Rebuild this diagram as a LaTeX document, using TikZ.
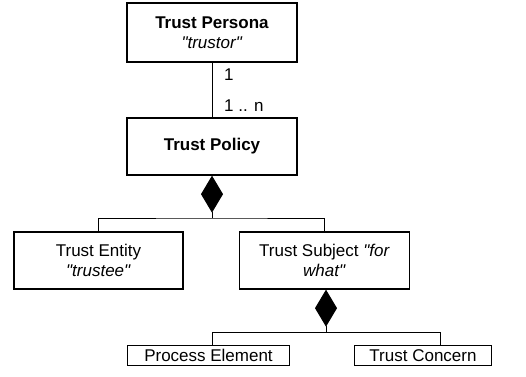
\documentclass[tikz,border=0pt]{standalone}
\usepackage{fontspec}
\setmainfont{Liberation Sans}
\usetikzlibrary{arrows.meta}
\newcommand\qq{\textquotedbl}
\begin{document}
\begin{tikzpicture}[x=1pt,y=-1pt,
  font=\fontsize{17}{20}\selectfont,
  box/.style={draw, line width=1.3pt, inner sep=0pt, align=center},
  conn/.style={line width=1pt},
  agg/.style={conn, -{Diamond[length=37pt,width=22pt]}}]
\useasboundingbox (0,0) rectangle (526,376);
\node[box, minimum width=170pt, minimum height=59pt] (persona) at (212,32.5) {\textbf{Trust Persona}\\\textit{\qq trustor\qq}};
\node[box, minimum width=170pt, minimum height=57pt] (policy) at (212,146.5) {\textbf{Trust Policy}};
\node[box, minimum width=169pt, minimum height=57pt] (entity) at (98.5,260.5) {Trust Entity\\\textit{\qq trustee\qq}};
\node[box, minimum width=170pt, minimum height=57pt] (subject) at (324.5,260.5) {Trust Subject \textit{\qq for}\\\textit{what\qq}};
\node[box, minimum width=162pt, minimum height=20pt] (process) at (208.5,355.7) {Process Element};
\node[box, minimum width=137pt, minimum height=20pt] (concern) at (423,355.7) {Trust Concern};
\draw[conn] (persona.south) -- (policy.north);
\node[anchor=west, inner sep=0pt] (m1) at (224,75) {1};
\node[anchor=west, inner sep=0pt] (mn) at (224,106) {1 .. n};
\coordinate (b1) at (212,218);
\draw[agg] (b1) -- (policy.south);
\draw[conn] (entity.north) |- (b1) -| (subject.north);
\coordinate (b2) at (326,332);
\draw[agg] (b2) -- (b2 |- subject.south);
\draw[conn] ([xshift=4pt]process.north) |- (b2) -| ([xshift=17pt]concern.north);
\end{tikzpicture}
\end{document}
